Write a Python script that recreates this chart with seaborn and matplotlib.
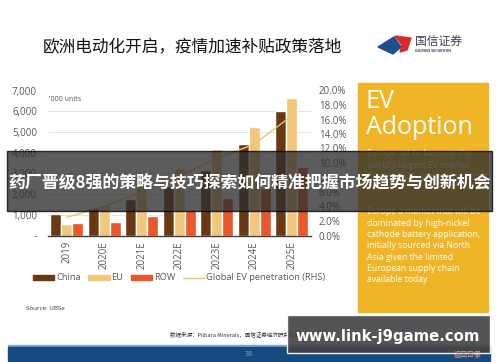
import matplotlib
matplotlib.use("Agg")
import matplotlib.pyplot as plt
from matplotlib.patches import Patch, Rectangle, Polygon
from matplotlib.lines import Line2D
import numpy as np
import pandas as pd
import seaborn as sns

# data ('000 units, penetration in %)
years = ['2019', '2020E', '2021E', '2022E', '2023E', '2024E', '2025E']
china = [1050, 1350, 1750, 2400, 3150, 4400, 6000]
eu = [560, 1450, 2400, 3250, 4200, 5250, 6650]
row = [600, 630, 950, 1250, 1800, 2300, 3330]
penetration = [2.5, 4.0, 6.0, 8.2, 10.6, 12.6, 16.5]
regions = ['China', 'EU', 'ROW']
left_ticks = [0, 1000, 2000, 3000, 4000, 5000, 6000, 7000]
right_ticks = [0, 2, 4, 6, 8, 10, 12, 14, 16, 18, 20]

df = pd.DataFrame({'year': years * 3,
                   'units': china + eu + row,
                   'region': ['China'] * 7 + ['EU'] * 7 + ['ROW'] * 7})

c_china, c_eu, c_row, c_line = '#6b3814', '#f1c77c', '#e8582a', '#e9c46c'
grey = '#595959'

# settings
sns.set_style("white")
plt.rcParams['font.family'] = ['Open Sans', 'Noto Sans CJK SC', 'DejaVu Sans']

W, H = 500, 362
def fx(x): return x / W
def fy(y): return 1 - y / H

fig = plt.figure(figsize=(5, 3.62), dpi=100)
fig.patch.set_facecolor('white')

# chart
ax = fig.add_axes([fx(48), fy(235.5), (310.5 - 48) / W, (235.5 - 90.5) / H])
sns.barplot(data=df, x='year', y='units', hue='region', order=years,
            hue_order=regions, palette=[c_china, c_eu, c_row], width=0.88,
            gap=0, saturation=1, legend=False, ax=ax)
ax.set_ylim(0, 7000)
ax.set_xlim(-0.5, 6.5)
ax.set_yticks(left_ticks)
ax.set_yticklabels(['-' if v == 0 else '{:,}'.format(v) for v in left_ticks],
                   fontsize=7, color=grey)
ax.tick_params(axis='y', length=0, pad=8)
ax.tick_params(axis='x', length=0, pad=4)
for lab in ax.get_xticklabels():
    lab.set_rotation(90)
    lab.set_fontsize(7)
    lab.set_color(grey)
ax.set_xlabel('')
ax.set_ylabel('')
ax.yaxis.grid(True, color='#e4e4e4', lw=0.7)
ax.set_axisbelow(True)
for s in ['top', 'left', 'right']:
    ax.spines[s].set_visible(False)
ax.spines['bottom'].set_color('#404040')
ax.spines['bottom'].set_linewidth(1)
ax.text(0.005, 0.935, "'000 units", transform=ax.transAxes, fontsize=5,
        color=grey, va='center')

ax2 = ax.twinx()
sns.lineplot(x=np.arange(len(years)), y=penetration, ax=ax2, color=c_line, lw=1)
ax2.set_ylim(0, 20)
ax2.set_yticks(right_ticks)
ax2.set_yticklabels(['%.1f%%' % v for v in right_ticks], fontsize=7, color=grey)
ax2.tick_params(axis='y', length=0, pad=6)
ax2.set_ylabel('')
for s in ax2.spines.values():
    s.set_visible(False)

handles = [Patch(color=c_china), Patch(color=c_eu), Patch(color=c_row),
           Line2D([], [], color=c_line, lw=1)]
fig.legend(handles, ['China', 'EU', 'ROW', 'Global EV penetration (RHS)'],
           loc='center left', bbox_to_anchor=(fx(33), fy(278)), ncol=4,
           frameon=False, fontsize=6.7, labelcolor=grey, handlelength=2.3,
           handleheight=0.45, handletextpad=0.2, columnspacing=0.8,
           borderpad=0, borderaxespad=0)

fig.text(fx(26), fy(308), 'Source: UBSe', fontsize=4.5, color='#333333', va='center')

# header
fig.text(fx(43), fy(47.5), '欧洲电动化开启，疫情加速补贴政策落地', fontsize=12,
         family=['Noto Sans CJK SC'], color='#111111', va='center')
fig.add_artist(Polygon([(fx(378), fy(47)), (fx(394), fy(37)), (fx(401), fy(47)), (fx(393), fy(54))],
                       closed=True, color='#1f4e8c', transform=fig.transFigure))
fig.add_artist(Polygon([(fx(395), fy(36)), (fx(411), fy(38)), (fx(407), fy(50)), (fx(400), fy(52)), (fx(402), fy(45))],
                       closed=True, color='#d92b2b', transform=fig.transFigure))
fig.text(fx(415), fy(42), '国信证券', fontsize=8.5, family=['Noto Sans CJK SC'],
         color='#3b3b55', va='center')
fig.text(fx(415), fy(51.5), 'GUOSEN SECURITIES', fontsize=2.6, color='#3b3b55',
         va='center', weight='bold')

# yellow side box
fig.add_artist(Rectangle((fx(358), fy(312)), 130 / W, (312 - 83) / H,
                         color='#efb526', transform=fig.transFigure, zorder=1))
fig.text(fx(366), fy(101), 'EV', fontsize=18, color='white', va='center', zorder=2)
fig.text(fx(366), fy(127), 'Adoption', fontsize=18, color='white', va='center', zorder=2)
para1 = ['Europe set to become the', "world's largest EV market", 'during 2020, overtaking China']
para2 = ['Europe a market that will be', 'dominated by high-nickel',
         'cathode battery application,', 'initially sourced via North',
         'Asia given the limited', 'European supply chain', 'available today']
for i, t in enumerate(para1):
    fig.text(fx(367), fy(154 + 11.2 * i), t, fontsize=6.2, color='white', va='center', zorder=2)
for i, t in enumerate(para2):
    fig.text(fx(367), fy(212 + 11.3 * i), t, fontsize=6.2, color='white', va='center', zorder=2)

# footer
fig.text(fx(170), fy(334), '数据来源：Pilbara Minerals，国信证券经济研究所整理', fontsize=4,
         family=['Noto Sans CJK SC'], color='#333333', va='center')
fig.add_artist(Rectangle((fx(8), fy(346)), 482 / W, 1.2 / H, color='#7fa6cc',
                         transform=fig.transFigure))
fig.add_artist(Rectangle((fx(8), fy(361)), 482 / W, 14.5 / H, color='#174b80',
                         transform=fig.transFigure))
fig.text(fx(249), fy(354), '38', fontsize=5, color='#8ea6c6', va='center', ha='center')
fig.text(fx(468), fy(355), '返回目录', fontsize=5, family=['Noto Sans CJK SC'],
         color='#e8a080', va='center', ha='center', zorder=12)

# overlays
fig.add_artist(Rectangle((fx(7), fy(211)), 485 / W, 60 / H, facecolor='#2e2e2e',
                         edgecolor='black', lw=1, alpha=0.78,
                         transform=fig.transFigure, zorder=10))
fig.text(fx(249.5), fy(182.5), '药厂晋级8强的策略与技巧探索如何精准把握市场趋势与创新机会',
         fontsize=12.2, family=['Noto Sans CJK SC'], weight='bold', color='white',
         ha='center', va='center', zorder=11)
fig.add_artist(Rectangle((fx(287), fy(353)), 203 / W, 38 / H, facecolor='#454545',
                         alpha=0.92, transform=fig.transFigure, zorder=10))
fig.text(fx(388), fy(336), 'www.link-j9game.com', fontsize=10.7, weight='bold',
         family=['DejaVu Sans'], color='white', ha='center', va='center', zorder=11)

fig.savefig('out.png', dpi=100)
plt.close()
